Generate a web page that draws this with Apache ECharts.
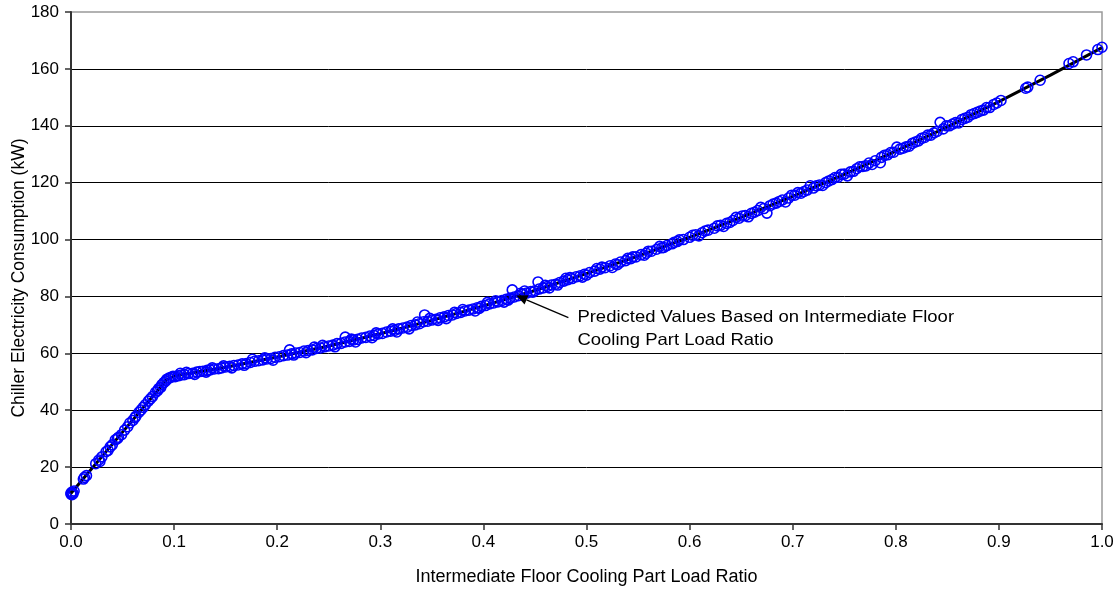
<!DOCTYPE html>
<html>
<head>
<meta charset="utf-8">
<script src="https://cdn.jsdelivr.net/npm/echarts@6/dist/echarts.min.js"></script>
<style>
html,body{margin:0;padding:0;background:#fff;}
#chart{width:1119px;height:592px;}
</style>
</head>
<body>
<div id="chart"></div>
<script>
var loadRatio = [
0.000,0.000,0.001,0.002,0.001,0.003,0.013,0.015,0.024,0.027,0.028,0.030,0.034,0.036,0.038,0.040,0.043,0.046,0.049,0.052,
0.055,0.057,0.060,0.063,0.066,0.068,0.070,0.072,0.075,0.079,0.082,0.084,0.085,0.088,0.090,0.092,0.093,0.095,0.097,0.099,
0.101,0.104,0.107,0.110,0.112,0.114,0.118,0.122,0.125,0.128,0.131,0.132,0.135,0.139,0.143,0.146,0.148,0.150,0.154,0.158,
0.162,0.166,0.168,0.170,0.174,0.178,0.182,0.186,0.188,0.190,0.194,0.198,0.202,0.206,0.210,0.212,0.214,0.218,0.222,0.226,
0.228,0.230,0.234,0.238,0.242,0.244,0.246,0.250,0.254,0.258,0.262,0.266,0.266,0.270,0.274,0.276,0.278,0.282,0.286,0.290,
0.294,0.296,0.298,0.302,0.306,0.310,0.314,0.316,0.318,0.322,0.326,0.330,0.334,0.336,0.338,0.342,0.343,0.346,0.350,0.354,
0.356,0.358,0.362,0.366,0.370,0.372,0.374,0.378,0.382,0.386,0.390,0.392,0.394,0.398,0.402,0.404,0.406,0.410,0.414,0.418,
0.420,0.422,0.426,0.428,0.430,0.434,0.438,0.440,0.442,0.446,0.450,0.453,0.454,0.458,0.462,0.464,0.466,0.470,0.474,0.478,
0.480,0.482,0.486,0.490,0.494,0.496,0.498,0.503,0.508,0.510,0.513,0.518,0.523,0.525,0.528,0.533,0.538,0.540,0.543,0.548,
0.553,0.556,0.558,0.563,0.568,0.571,0.573,0.578,0.583,0.585,0.588,0.594,0.600,0.603,0.606,0.612,0.615,0.618,0.624,0.630,
0.633,0.636,0.642,0.645,0.648,0.654,0.657,0.660,0.666,0.669,0.672,0.675,0.678,0.681,0.684,0.690,0.693,0.696,0.702,0.705,
0.708,0.714,0.717,0.720,0.726,0.729,0.732,0.738,0.741,0.744,0.750,0.753,0.756,0.762,0.765,0.768,0.774,0.777,0.780,0.785,
0.786,0.789,0.792,0.798,0.801,0.804,0.810,0.813,0.816,0.822,0.825,0.828,0.834,0.837,0.840,0.843,0.846,0.849,0.852,0.858,
0.861,0.864,0.870,0.873,0.876,0.882,0.885,0.888,0.895,0.898,0.902,0.926,0.928,0.940,0.968,0.972,0.985,0.996,1.000
];
var chillerKW = [
10.5,10.9,11.2,10.7,10.3,11.6,16.4,17.0,21.2,22.5,22.0,23.6,25.4,25.9,27.1,27.8,29.6,30.5,31.4,33.0,
34.2,35.5,36.4,37.9,39.3,40.1,41.0,41.9,43.2,44.8,46.3,46.9,47.6,48.9,49.7,50.3,50.9,51.3,51.6,51.9,
51.8,52.1,52.4,52.5,53.3,52.9,53.0,53.4,53.6,53.7,53.4,54.0,54.2,54.5,54.6,54.9,55.6,55.2,55.4,55.7,
55.9,56.3,55.8,56.4,56.8,57.2,57.4,57.7,58.4,58.0,58.2,58.6,58.8,59.2,59.4,61.2,59.8,60.1,60.3,60.8,
60.2,61.0,61.2,61.7,61.9,62.8,62.3,62.6,62.9,63.4,63.5,64.0,65.7,64.2,64.7,64.0,64.9,65.4,65.6,66.1,
66.3,67.2,66.8,67.0,67.5,67.8,68.1,67.5,68.6,68.9,69.2,69.8,70.0,71.0,70.4,71.1,73.5,71.3,71.7,72.0,
71.6,72.5,72.8,73.3,73.5,74.4,74.0,74.4,74.9,75.2,75.6,74.9,76.0,76.5,76.8,77.9,77.4,77.7,78.1,78.6,
78.0,79.0,79.4,82.3,79.8,80.3,80.8,81.9,81.2,81.7,82.0,85.1,82.6,83.0,83.5,83.0,84.0,84.3,84.9,85.4,
86.4,85.9,86.3,86.9,87.3,86.8,87.8,88.4,88.9,89.8,89.6,90.1,90.8,90.2,91.4,92.1,92.6,93.4,93.3,93.9,
94.7,94.5,95.2,95.9,96.6,97.6,97.1,97.9,98.5,99.0,99.3,100.0,100.8,101.5,101.7,102.4,103.0,103.3,104.0,105.0,
104.6,105.7,106.7,107.8,107.5,108.4,108.0,109.2,110.2,111.3,110.9,109.3,111.9,112.5,112.8,113.9,113.2,114.6,115.6,116.5,
116.3,117.4,118.9,118.1,119.2,119.0,120.0,121.1,121.8,121.9,123.0,122.4,123.8,124.9,125.6,125.7,126.9,126.4,127.7,127.0,
128.9,129.6,129.8,130.7,132.5,131.8,132.6,132.8,133.8,134.7,135.6,135.9,136.7,137.5,138.0,141.2,138.9,140.0,140.0,141.1,
141.0,142.2,143.0,143.9,144.3,145.2,145.5,146.4,147.5,148.0,148.9,153.2,153.6,156.0,161.9,162.5,164.9,166.8,167.6
];
var extraRatio = [
0.106,0.120,0.137,0.156,0.176,0.196,0.216,0.236,0.256,0.272,0.292,0.312,0.328,0.348,0.364,0.380,0.396,0.412,0.424,0.436,
0.448,0.460,0.472,0.484,0.500,0.515,0.530,0.545,0.560,0.575,0.590,0.609,0.627,0.639,0.651,0.663,0.687,0.699,0.711,0.723,
0.735,0.747,0.759,0.771,0.795,0.807,0.819,0.831,0.855,0.867,0.879,0.891,0.012,0.045,0.062,0.077,0.087
];
var extraKW = [
53.0,52.6,54.9,54.9,57.9,57.6,59.4,62.2,62.3,65.0,65.5,68.6,68.6,72.3,72.2,75.4,75.8,78.5,78.7,81.1,
81.5,83.9,84.0,86.6,87.5,90.3,91.2,93.9,95.9,97.2,99.9,101.3,104.8,106.0,108.3,109.6,113.4,115.6,116.9,118.9,
120.6,122.9,124.0,125.9,130.6,132.1,134.3,136.7,140.6,142.6,144.7,146.4,15.8,30.0,37.4,44.0,48.0
];
// Predicted values line
var predRatio = [0.000,0.020,0.050,0.093,0.100,0.150,0.200,0.250,0.300,0.350,0.400,0.450,0.500,0.550,0.600,0.650,0.700,0.750,0.800,0.850,0.900,0.950,1.000];
var predKW    = [10.8,19.4,32.3,50.8,52.0,55.1,58.7,62.6,66.9,71.6,76.7,82.1,88.0,94.2,100.8,107.8,115.2,122.9,131.1,139.6,148.5,157.8,167.5];
var yTicks = [0,20,40,60,80,100,120,140,160,180];
var xTicks = [0.0,0.1,0.2,0.3,0.4,0.5,0.6,0.7,0.8,0.9,1.0];
var xTitle = 'Intermediate Floor Cooling Part Load Ratio';
var yTitle = 'Chiller Electricity Consumption (kW)';
var noteLines = ['Predicted Values Based on Intermediate Floor', 'Cooling Part Load Ratio'];
var notePoint = [0.432, 80.3];

var FONT = '"Liberation Sans", Arial, sans-serif';
var scatterData = loadRatio.map(function(x,i){return [x, chillerKW[i]];})
  .concat(extraRatio.map(function(x,i){return [x, extraKW[i]];}));
var lineData = predRatio.map(function(x,i){return [x, predKW[i]];});

var chart = echarts.init(document.getElementById('chart'), null, {renderer:'canvas'});
chart.setOption({
  animation:false,
  backgroundColor:'#fff',
  grid:{left:71,right:17,top:12,bottom:68,containLabel:false,outerBoundsMode:'none',
        show:true,borderColor:'#999',borderWidth:1.5,backgroundColor:'transparent'},
  xAxis:{
    type:'value', min:xTicks[0], max:xTicks[xTicks.length-1], interval:0.1,
    name:xTitle, nameLocation:'middle', nameGap:44, nameMoveOverlap:false,
    nameTextStyle:{fontFamily:FONT,fontSize:18,color:'#000'},
    axisLine:{show:true,onZero:false,lineStyle:{color:'#333',width:2}},
    axisTick:{show:true,length:6,lineStyle:{color:'#333',width:1.5}},
    axisLabel:{fontFamily:FONT,fontSize:17,color:'#000',margin:10,formatter:function(v){return v.toFixed(1);}},
    splitLine:{show:false}
  },
  yAxis:{
    type:'value', min:yTicks[0], max:yTicks[yTicks.length-1], interval:20,
    name:yTitle, nameLocation:'middle', nameGap:43, nameRotate:90, nameMoveOverlap:false,
    nameTextStyle:{fontFamily:FONT,fontSize:17.5,color:'#000',padding:[0,20,0,0]},
    axisLine:{show:true,onZero:false,lineStyle:{color:'#333',width:2}},
    axisTick:{show:true,length:6,lineStyle:{color:'#333',width:1.5}},
    axisLabel:{fontFamily:FONT,fontSize:17,color:'#000',margin:12},
    splitLine:{show:true,showMinLine:false,showMaxLine:false,lineStyle:{color:'#000',width:1}}
  },
  series:[
    {type:'line',data:lineData,showSymbol:false,symbol:'none',lineStyle:{color:'#000',width:3},z:2,silent:true},
    {type:'scatter',data:scatterData,symbol:'circle',symbolSize:10,
     itemStyle:{color:'rgba(0,0,0,0)',borderColor:'#0000FF',borderWidth:1.6,opacity:1},z:3,silent:true}
  ]
});

// annotation
var tip = chart.convertToPixel({gridIndex:0}, notePoint);
var tail = [tip[0]+52, tip[1]+22];
var dx = tip[0]-tail[0], dy = tip[1]-tail[1];
var len = Math.sqrt(dx*dx+dy*dy), ux = dx/len, uy = dy/len;
var ah = 11, aw = 5;
var bx = tip[0]-ux*ah, by = tip[1]-uy*ah;
chart.setOption({
  graphic:[
    {type:'line',shape:{x1:tail[0],y1:tail[1],x2:bx,y2:by},style:{stroke:'#000',lineWidth:1.3},z:10},
    {type:'polygon',shape:{points:[[tip[0],tip[1]],[bx-uy*aw,by+ux*aw],[bx+uy*aw,by-ux*aw]]},style:{fill:'#000'},z:10},
    {type:'text',x:tail[0]+9,y:tail[1]-11,scaleX:1.12,
     style:{text:noteLines.join('\n'),font:'16.5px '+FONT,fill:'#000',lineHeight:22.5,textAlign:'left',textVerticalAlign:'top'},z:10}
  ]
});
</script>
</body>
</html>
